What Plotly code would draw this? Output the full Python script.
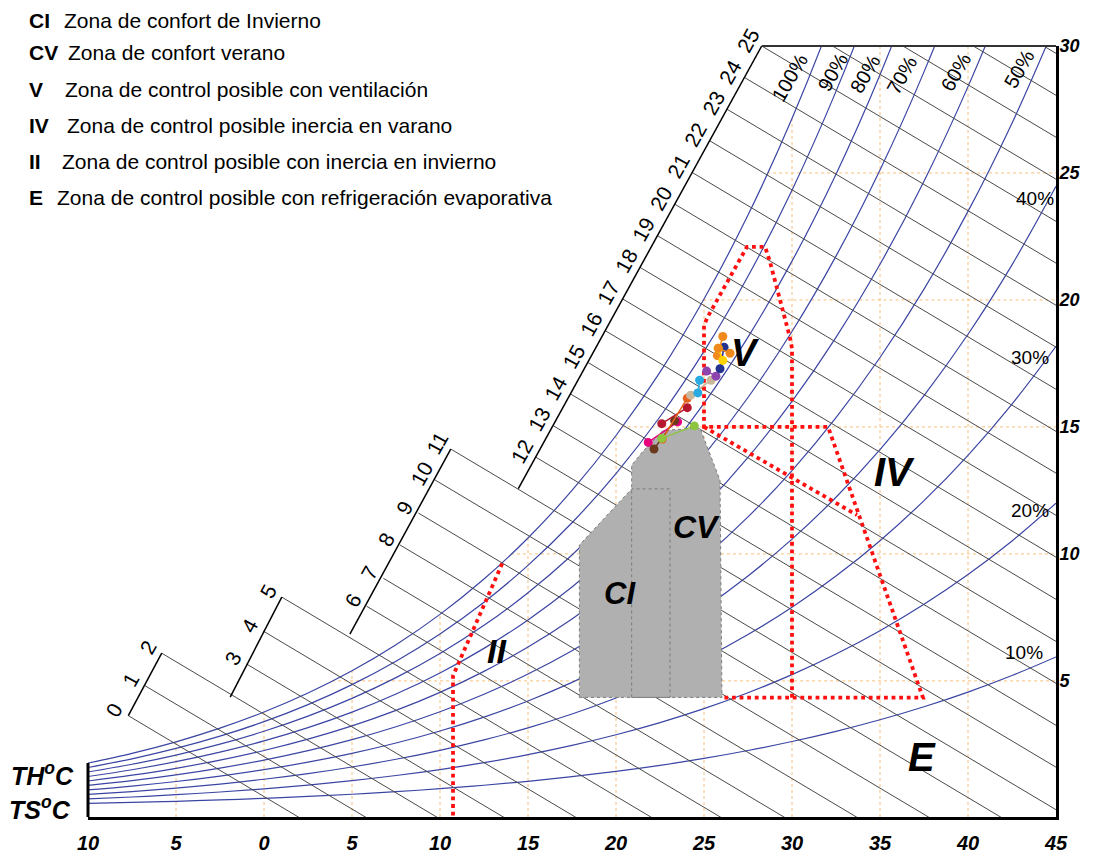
import numpy as np
import plotly.graph_objects as go

FONT = "Liberation Sans"

# presión atmosférica (nivel del mar) y tabla de saturación
P_ATM = 101.325
t_tab = [-10, -7.5, -5, -2.5, 0, 2.5, 5, 7.5, 10, 12.5, 15, 17.5, 20, 22.5,
         25, 27.5, 30, 32.5, 35, 37.5, 40, 42.5, 45]
ps_tab = [0.2868, 0.3485, 0.4219, 0.5087, 0.6109, 0.7310, 0.8716, 1.0355,
          1.2261, 1.4468, 1.7020, 1.9959, 2.3336, 2.7201, 3.1618, 3.6653,
          4.2370, 4.885, 5.618, 6.444, 7.374, 8.419, 9.590]
rh_levels = [100, 90, 80, 70, 60, 50, 40, 30, 20, 10]

# rejilla naranja
grid_t = [-5, 0, 5, 10, 15, 20, 25, 30, 35, 40]
grid_w = [5, 10, 15, 20, 25]

# lineas de temperatura humeda (TH): punto de arranque en la escala
th_labels = list(range(26))
th_t0 = [-7.71, -6.76, -5.81, -0.98, -0.04, 1.01, 5.83, 6.78, 7.73, 8.77,
         9.72, 10.61, 15.44, 16.43, 17.41, 18.40, 19.39, 20.38, 21.37,
         22.36, 23.34, 24.33, 25.32, 26.31, 27.30, 28.28]
th_w0 = [3.63, 4.81, 6.09, 5.66, 6.96, 8.30, 7.94, 9.04, 10.35, 11.61,
         12.91, 14.13, 13.81, 15.05, 16.30, 17.54, 18.79, 20.04, 21.28,
         22.53, 23.77, 25.02, 26.27, 27.51, 28.76, 30.00]
th_groups = [[0, 1, 2], [3, 4, 5], [6, 7, 8, 9, 10, 11], list(range(12, 26))]
th_top_t = [32.3, 36.3, 40.3, 44.3]   # lineas sin rotulo que entran por arriba
TH_SLOPE = -0.413

# zonas
ci_t = [17.92, 17.92, 20.89, 23.07, 23.07, 17.92]
ci_w = [4.35, 10.35, 12.56, 12.56, 4.35, 4.35]
cv_t = [20.89, 20.89, 21.48, 22.05, 22.67, 24.77, 25.91, 26.02, 20.89]
cv_w = [4.35, 13.49, 14.0, 14.43, 14.86, 14.96, 12.9, 4.35, 4.35]
ii_t = [10.74, 10.74, 13.58]
ii_w = [-0.3, 5.2, 9.69]
v_t = [30.0, 30.0, 29.89, 28.75, 28.47, 27.44, 25.23, 25.0, 25.0, 32.05, 37.44, 26.02]
v_w = [4.34, 18.1, 18.5, 21.5, 22.09, 22.09, 19.36, 19.0, 15.0, 15.0, 4.34, 4.34]
iv_t = [25.0, 33.69]
iv_w = [15.0, 11.53]

# datos climaticos (pares min / max)
series_colors = ["#e6007e", "#6b3a1e", "#b5172e", "#e8601c", "#8cc63f", "#c9b79c",
                 "#29abe2", "#8e44ad", "#23338f", "#f08a1c", "#ffd200", "#f08a1c"]
series_t = [[21.83, 23.5], [22.16, 23.33], [22.6, 24.05], [22.63, 24.05],
            [22.6, 24.45], [24.24, 25.4], [24.65, 24.75], [25.15, 25.68],
            [25.91, 26.14], [25.76, 26.07], [25.81, 26.07], [25.81, 26.48]]
series_w = [[14.39, 15.2], [14.13, 15.24], [15.13, 15.76], [14.52, 16.13],
            [14.55, 15.04], [16.25, 16.84], [16.34, 16.84], [17.2, 17.0],
            [17.29, 18.14], [17.81, 18.56], [18.1, 17.62], [18.1, 17.9]]

legend_codes = ["CI", "CV", "V", "IV", "II", "E"]
legend_texts = ["Zona de confort de Invierno", "Zona de confort verano",
                "Zona de control posible con ventilación",
                "Zona de control posible inercia en varano",
                "Zona de control posible con inercia en invierno",
                "Zona de control posible con refrigeración evaporativa"]

W_MIN, W_MAX = -0.36, 30
T_MIN, T_MAX = -10, 45
# area de trazado deseada (pixeles de pantalla); la pagina desplaza 8 px
L, R, T, B = 88, 38, 46, 36
OFF = 8
WIDTH, HEIGHT = 1094, 858


def px(x):
    return (x - L) / (WIDTH - L - R)


def py(y):
    return (HEIGHT - B - y) / (HEIGHT - T - B)


ps_arr = np.array(ps_tab)
t_arr = np.array(t_tab, dtype=float)


def w_of(phi):
    p = phi * ps_arr
    return 622 * p / (P_ATM - p)


ws_arr = w_of(1.0)

fig = go.Figure()

# rejilla
gx, gy = [], []
for t in grid_t:
    top = min(float(np.interp(t, t_arr, ws_arr)), W_MAX)
    gx += [t, t, None]
    gy += [W_MIN, top, None]
for w in grid_w:
    gx += [float(np.interp(w, ws_arr, t_arr)), T_MAX, None]
    gy += [w, w, None]
fig.add_trace(go.Scatter(x=gx, y=gy, mode="lines",
                         line=dict(color="#f7c07a", width=1, dash="dot"),
                         hoverinfo="skip"))

# curvas de humedad relativa
for rh in rh_levels:
    fig.add_trace(go.Scatter(x=t_tab, y=w_of(rh / 100), mode="lines",
                             line=dict(color="#3b45a3", width=1.2, shape="spline"),
                             hoverinfo="skip"))

# lineas TH
lx, ly = [], []
for t0, w0 in list(zip(th_t0, th_w0)) + [(t, W_MAX) for t in th_top_t]:
    lx += [t0, t0 + 40, None]
    ly += [w0, w0 + TH_SLOPE * 40, None]
fig.add_trace(go.Scatter(x=lx, y=ly, mode="lines",
                         line=dict(color="#4a4a4a", width=1), hoverinfo="skip"))

# escalas escalonadas
for gi, grp in enumerate(th_groups):
    xs = [th_t0[i] for i in grp]
    ys = [th_w0[i] for i in grp]
    if gi > 0:
        xs = [2 * xs[0] - xs[1]] + xs
        ys = [2 * ys[0] - ys[1]] + ys
    fig.add_trace(go.Scatter(x=[xs[0], xs[-1]], y=[ys[0], ys[-1]], mode="lines",
                             line=dict(color="black", width=1.5), hoverinfo="skip"))

# zonas de confort
for zt, zw in [(ci_t, ci_w), (cv_t, cv_w)]:
    fig.add_trace(go.Scatter(x=zt, y=zw, mode="lines", fill="toself",
                             fillcolor="#b0b0b0", line=dict(width=0), hoverinfo="skip"))
for zt, zw in [(ci_t, ci_w), (cv_t, cv_w)]:
    fig.add_trace(go.Scatter(x=zt, y=zw, mode="lines",
                             line=dict(color="#7a7a7a", width=1, dash="dot"),
                             hoverinfo="skip"))

# zonas de control
for zt, zw in [(ii_t, ii_w), (v_t, v_w), (iv_t, iv_w)]:
    fig.add_trace(go.Scatter(x=zt, y=zw, mode="lines",
                             line=dict(color="#ff1010", width=3.8, dash="dot"),
                             hoverinfo="skip"))

# datos
for c, st, sw in zip(series_colors, series_t, series_w):
    fig.add_trace(go.Scatter(x=st, y=sw, mode="lines+markers",
                             line=dict(color=c, width=1.5),
                             marker=dict(color=c, size=9)))

# bordes
fig.add_shape(type="line", xref="x", yref="paper", x0=th_t0[-1], x1=T_MAX, y0=1, y1=1,
              line=dict(color="#333333", width=2))
fig.add_shape(type="line", xref="paper", yref="y", x0=0, x1=0, y0=W_MIN,
              y1=float(ws_arr[0]), line=dict(color="black", width=3))

ann = []
# rotulos TH
for i in th_labels:
    ann.append(dict(x=th_t0[i], y=th_w0[i], text=str(i), showarrow=False,
                    textangle=-61, xshift=-14, yshift=6,
                    font=dict(family=FONT, size=21, color="black")))
# rotulos HR
for txt, tx, tw in [("100%", 29.85, 28.75), ("90%", 32.33, 28.97), ("80%", 34.15, 28.9),
                    ("70%", 36.25, 28.85), ("60%", 39.32, 28.97), ("50%", 42.9, 29.1)]:
    ann.append(dict(x=tx, y=tw, text=txt, showarrow=False, textangle=-60,
                    font=dict(family=FONT, size=20, color="black")))
for txt, tx, tw in [("40%", 43.8, 24.0), ("30%", 43.5, 17.75),
                    ("20%", 43.5, 11.7), ("10%", 43.2, 6.1)]:
    ann.append(dict(x=tx, y=tw, text=txt, showarrow=False,
                    font=dict(family=FONT, size=19, color="black")))
# rotulos de zona
for txt, tx, tw, sz in [("CI", 20.23, 8.44, 31), ("CV", 24.6, 11.06, 32), ("V", 27.33, 17.9, 38),
                        ("IV", 35.85, 13.21, 40), ("II", 13.24, 6.18, 34), ("E", 37.39, 1.99, 40)]:
    ann.append(dict(x=tx, y=tw, text="<b><i>" + txt + "</i></b>", showarrow=False,
                    font=dict(family=FONT, size=sz, color="black")))
# leyenda
leg_y = [20, 53, 90, 126, 162, 198]
leg_x = [62, 66, 63, 65, 60, 55]
for code, txt, yy, xx in zip(legend_codes, legend_texts, leg_y, leg_x):
    ann.append(dict(xref="paper", yref="paper", x=px(27), y=py(yy), xanchor="left",
                    yanchor="middle", text="<b>" + code + "</b>", showarrow=False,
                    font=dict(family=FONT, size=21, color="black")))
    ann.append(dict(xref="paper", yref="paper", x=px(xx), y=py(yy), xanchor="left",
                    yanchor="middle", text=txt, showarrow=False,
                    font=dict(family=FONT, size=21, color="black")))
# ejes
for txt, xx, yy in [("TH<sup>o</sup>C", 42, 779), ("TS<sup>o</sup>C", 40, 813)]:
    ann.append(dict(xref="paper", yref="paper", x=px(xx), y=py(yy), xanchor="center",
                    yanchor="middle", text="<b><i>" + txt + "</i></b>",
                    showarrow=False, font=dict(family=FONT, size=25, color="black")))

fig.update_layout(
    width=WIDTH, height=HEIGHT,
    margin=dict(l=L - OFF, r=R + OFF, t=T - OFF, b=B + OFF),
    plot_bgcolor="white", paper_bgcolor="white",
    showlegend=False,
    annotations=ann,
    xaxis=dict(range=[T_MIN, T_MAX], showgrid=False, zeroline=False,
               tickvals=list(range(-10, 50, 5)),
               ticktext=[str(abs(v)) for v in range(-10, 50, 5)],
               tickfont=dict(family=FONT, size=20, color="black", weight="bold", style="italic"),
               showline=True, linewidth=3, linecolor="black",
               ticks="outside", ticklen=6, tickcolor="rgba(0,0,0,0)"),
    yaxis=dict(range=[W_MIN, W_MAX], side="right", showgrid=False, zeroline=False,
               tickvals=[5, 10, 15, 20, 25, 30],
               tickfont=dict(family=FONT, size=18, color="black", weight="bold", style="italic"),
               showline=True, linewidth=3, linecolor="black",
               ticks="", ticklabelstandoff=-3),
)

fig.write_html("out.html", config={"displayModeBar": False})
